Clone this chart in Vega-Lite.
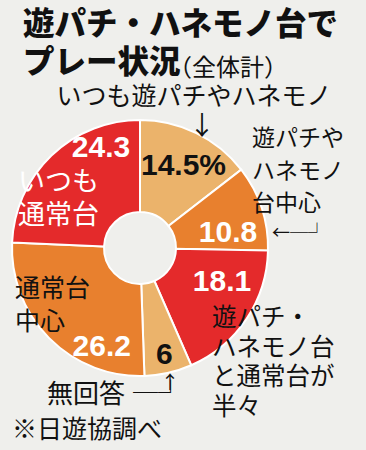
{
  "$schema": "https://vega.github.io/schema/vega-lite/v6.json",
  "autosize": "none",
  "width": 234,
  "height": 296,
  "padding": {"left": 23, "top": 100, "right": 109, "bottom": 54},
  "background": "#EFEFEC",
  "view": {"stroke": null},
  "title": {
    "text": ["遊パチ・ハネモノ台で", "プレー状況"],
    "anchor": "start",
    "frame": "group",
    "font": "Noto Sans CJK JP",
    "fontSize": 31.5,
    "fontWeight": 900,
    "lineHeight": 38,
    "offset": 10,
    "dy": 32,
    "color": "#111111"
  },
  "data": {
    "values": [
      {"order": 1, "cat": "いつも遊パチやハネモノ", "value": 14.5, "label": "14.5%", "note": ["いつも遊パチやハネモノ"]},
      {"order": 2, "cat": "遊パチやハネモノ台中心", "value": 10.8, "label": "10.8", "note": ["遊パチや", "ハネモノ", "台中心"]},
      {"order": 3, "cat": "遊パチ・ハネモノ台と通常台が半々", "value": 18.1, "label": "18.1", "note": ["遊パチ・", "ハネモノ台", "と通常台が", "半々"]},
      {"order": 4, "cat": "無回答", "value": 6, "label": "6", "note": ["無回答"]},
      {"order": 5, "cat": "通常台中心", "value": 26.2, "label": "26.2", "note": ["通常台", "中心"]},
      {"order": 6, "cat": "いつも通常台", "value": 24.3, "label": "24.3", "note": ["いつも", "通常台"]}
    ]
  },
  "layer": [
    {
      "mark": {"type": "arc", "innerRadius": 36, "outerRadius": 128, "stroke": "white", "strokeWidth": 2},
      "encoding": {
        "theta": {"field": "value", "type": "quantitative", "stack": true},
        "order": {"field": "order", "type": "quantitative"},
        "color": {
          "field": "cat", "type": "nominal", "legend": null,
          "scale": {
            "domain": ["いつも遊パチやハネモノ", "遊パチやハネモノ台中心", "遊パチ・ハネモノ台と通常台が半々", "無回答", "通常台中心", "いつも通常台"],
            "range": ["#EBB36B", "#E8802E", "#E42A2B", "#EBB36B", "#E8802E", "#E42A2B"]
          }
        }
      }
    },
    {
      "mark": {"type": "text", "radius": 92, "dx": 3, "dy": 1, "font": "Liberation Sans", "fontWeight": "bold", "fontSize": 30, "color": "#111111"},
      "encoding": {
        "theta": {"field": "value", "type": "quantitative", "stack": true},
        "order": {"field": "order", "type": "quantitative"},
        "text": {"condition": {"test": "datum.order === 1", "field": "label", "type": "nominal"}, "value": ""}
      }
    },
    {
      "mark": {"type": "text", "radius": 89, "dx": 3.5, "dy": 13, "font": "Liberation Sans", "fontWeight": "bold", "fontSize": 30, "color": "#FFFFFF"},
      "encoding": {
        "theta": {"field": "value", "type": "quantitative", "stack": true},
        "order": {"field": "order", "type": "quantitative"},
        "text": {"condition": {"test": "datum.order === 2", "field": "label", "type": "nominal"}, "value": ""}
      }
    },
    {
      "mark": {"type": "text", "radius": 89, "dx": 8, "dy": -15.5, "font": "Liberation Sans", "fontWeight": "bold", "fontSize": 30, "color": "#FFFFFF"},
      "encoding": {
        "theta": {"field": "value", "type": "quantitative", "stack": true},
        "order": {"field": "order", "type": "quantitative"},
        "text": {"condition": {"test": "datum.order === 3", "field": "label", "type": "nominal"}, "value": ""}
      }
    },
    {
      "mark": {"type": "text", "radius": 110, "dx": 0, "dy": 0, "font": "Liberation Sans", "fontWeight": "bold", "fontSize": 30, "color": "#111111"},
      "encoding": {
        "theta": {"field": "value", "type": "quantitative", "stack": true},
        "order": {"field": "order", "type": "quantitative"},
        "text": {"condition": {"test": "datum.order === 4", "field": "label", "type": "nominal"}, "value": ""}
      }
    },
    {
      "mark": {"type": "text", "radius": 106, "dx": 37, "dy": 24, "font": "Liberation Sans", "fontWeight": "bold", "fontSize": 30, "color": "#FFFFFF"},
      "encoding": {
        "theta": {"field": "value", "type": "quantitative", "stack": true},
        "order": {"field": "order", "type": "quantitative"},
        "text": {"condition": {"test": "datum.order === 5", "field": "label", "type": "nominal"}, "value": ""}
      }
    },
    {
      "mark": {"type": "text", "radius": 107, "dx": 35, "dy": -23, "font": "Liberation Sans", "fontWeight": "bold", "fontSize": 30, "color": "#FFFFFF"},
      "encoding": {
        "theta": {"field": "value", "type": "quantitative", "stack": true},
        "order": {"field": "order", "type": "quantitative"},
        "text": {"condition": {"test": "datum.order === 6", "field": "label", "type": "nominal"}, "value": ""}
      }
    },
    {
      "transform": [{"filter": "datum.order === 1"}],
      "mark": {"type": "text", "align": "center", "baseline": "top", "dx": 54, "dy": -163, "font": "Noto Sans CJK JP", "fontSize": 25, "color": "#111111"},
      "encoding": {"text": {"field": "note", "type": "nominal"}}
    },
    {
      "transform": [{"filter": "datum.order === 2"}],
      "mark": {"type": "text", "align": "left", "baseline": "top", "dx": 112, "dy": -120, "font": "Noto Sans CJK JP", "fontSize": 23, "lineHeight": 32.5, "color": "#111111"},
      "encoding": {"text": {"field": "note", "type": "nominal"}}
    },
    {
      "transform": [{"filter": "datum.order === 3"}],
      "mark": {"type": "text", "align": "left", "baseline": "top", "dx": 72, "dy": 59, "font": "Noto Sans CJK JP", "fontSize": 24.5, "lineHeight": 29.5, "color": "#111111"},
      "encoding": {"text": {"field": "note", "type": "nominal"}}
    },
    {
      "transform": [{"filter": "datum.order === 4"}],
      "mark": {"type": "text", "align": "left", "baseline": "top", "dx": -93, "dy": 134, "font": "Noto Sans CJK JP", "fontSize": 26, "color": "#111111"},
      "encoding": {"text": {"field": "note", "type": "nominal"}}
    },
    {
      "transform": [{"filter": "datum.order === 5"}],
      "mark": {"type": "text", "align": "left", "baseline": "top", "dx": -125, "dy": 29, "font": "Noto Sans CJK JP", "fontSize": 25, "lineHeight": 33, "color": "#111111"},
      "encoding": {"text": {"field": "note", "type": "nominal"}}
    },
    {
      "transform": [{"filter": "datum.order === 6"}],
      "mark": {"type": "text", "align": "left", "baseline": "top", "dx": -122, "dy": -78, "font": "Noto Sans CJK JP", "fontSize": 27, "lineHeight": 33, "color": "#FFFFFF"},
      "encoding": {"text": {"field": "note", "type": "nominal"}}
    },
    {
      "transform": [{"filter": "datum.order === 1"}],
      "mark": {"type": "text", "text": "↓", "align": "center", "baseline": "top", "dx": 62, "dy": -134, "font": "Noto Sans CJK JP", "fontSize": 26, "color": "#111111"},
      "encoding": {}
    },
    {
      "transform": [{"filter": "datum.order === 2"}],
      "mark": {"type": "text", "text": "←─┘", "align": "left", "baseline": "alphabetic", "dx": 132, "dy": -9, "font": "Noto Sans CJK JP", "fontSize": 18, "color": "#111111"},
      "encoding": {}
    },
    {
      "transform": [{"filter": "datum.order === 4"}],
      "mark": {"type": "text", "text": "─┘", "align": "left", "baseline": "alphabetic", "dx": -7, "dy": 154, "font": "Noto Sans CJK JP", "fontSize": 25, "color": "#111111"},
      "encoding": {}
    },
    {
      "transform": [{"filter": "datum.order === 4"}],
      "mark": {"type": "text", "text": "↑", "align": "center", "baseline": "top", "dx": 30, "dy": 127, "font": "Noto Sans CJK JP", "fontSize": 18, "color": "#111111"},
      "encoding": {}
    },
    {
      "data": {"values": [{"t": "（全体計）"}]},
      "mark": {"type": "text", "align": "left", "baseline": "top", "dx": 28, "dy": -191, "font": "Noto Sans CJK JP", "fontSize": 24, "color": "#111111"},
      "encoding": {"text": {"field": "t", "type": "nominal"}}
    },
    {
      "data": {"values": [{"t": "※日遊協調べ"}]},
      "mark": {"type": "text", "align": "left", "baseline": "top", "dx": -128, "dy": 170, "font": "Noto Sans CJK JP", "fontSize": 25, "color": "#111111"},
      "encoding": {"text": {"field": "t", "type": "nominal"}}
    }
  ]
}
